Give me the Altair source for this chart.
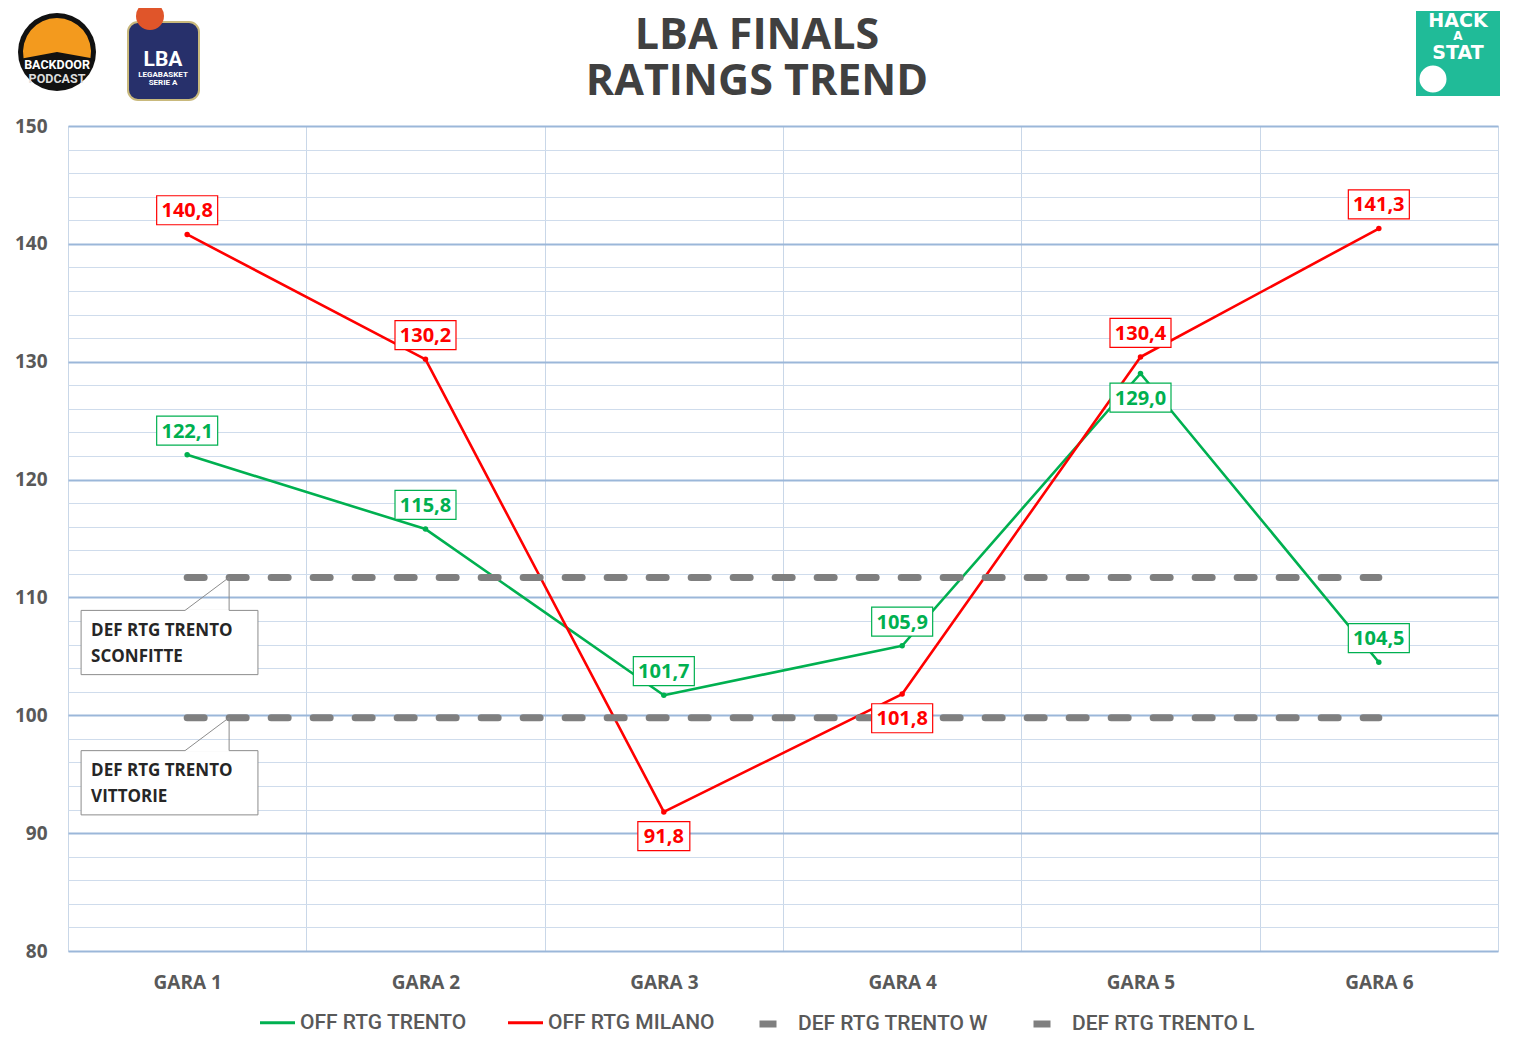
import altair as alt
import pandas as pd

# ---------------- data ----------------
games = ["GARA 1", "GARA 2", "GARA 3", "GARA 4", "GARA 5", "GARA 6"]
game_idx = [1, 2, 3, 4, 5, 6]
off_trento = [122.1, 115.8, 101.7, 105.9, 129.0, 104.5]
off_milano = [140.8, 130.2, 91.8, 101.8, 130.4, 141.3]
def_trento_w = 99.8   # DEF RTG TRENTO VITTORIE
def_trento_l = 111.7  # DEF RTG TRENTO SCONFITTE
off_series = ["OFF RTG TRENTO", "OFF RTG MILANO"]
def_series = ["DEF RTG TRENTO W", "DEF RTG TRENTO L"]
off_colors = ["#00b050", "#ff0000"]
def_color = "#7f7f7f"
# label placement: +1 above the point, -1 below
trento_label_side = [1, 1, 1, 1, -1, 1]
milano_label_side = [1, 1, -1, -1, 1, 1]
callout_values = [def_trento_l, def_trento_w]
callout_texts = ["DEF RTG TRENTO\nSCONFITTE", "DEF RTG TRENTO\nVITTORIE"]
title_lines = ["LBA FINALS", "RATINGS TREND"]

# ---------------- tables ----------------
off_rows = []
for s, vals in [(off_series[0], off_trento), (off_series[1], off_milano)]:
    for g, v in zip(game_idx, vals):
        off_rows.append({"g": g, "v": v, "s": s})
off_df = pd.DataFrame(off_rows)

def_rows = []
for s, v in [(def_series[0], def_trento_w), (def_series[1], def_trento_l)]:
    for g in game_idx:
        def_rows.append({"g": g, "v": v, "d": s})
def_df = pd.DataFrame(def_rows)

lab_rows = []
for s, vals, sides in [(off_series[0], off_trento, trento_label_side),
                       (off_series[1], off_milano, milano_label_side)]:
    for g, v, sd in zip(game_idx, vals, sides):
        lab_rows.append({"g": g, "v": v, "s": s, "side": sd,
                         "label": f"{v:.1f}".replace(".", ",")})
lab_df = pd.DataFrame(lab_rows)

call_df = pd.DataFrame({"v": callout_values, "text": callout_texts})

# ---------------- scales / axes ----------------
n = len(games)
W, H = 1430, 825
xscale = alt.Scale(domain=[0.5, n + 0.5], nice=False, zero=False)
yscale = alt.Scale(domain=[80, 150], nice=False, zero=False)
color_scale = alt.Scale(domain=off_series, range=off_colors)
dash_scale = alt.Scale(domain=def_series, range=[[17, 25], [17, 25]])

games_js = "[" + ",".join(f"'{g}'" for g in games) + "]"
xaxis = alt.Axis(
    values=[i + 0.5 for i in range(n + 1)],
    labelExpr=f"datum.value < {n} ? {games_js}[floor(datum.value)] : ''",
    labelOffset=W / n / 2,
    labelFlush=False, labelOverlap=False,
    grid=True, gridColor="#c9d7e8", gridWidth=1,
    domain=False, ticks=False, title=None,
    labelFont="Open Sans", labelFontSize=19, labelFontWeight="bold",
    labelColor="#595959", labelPadding=22,
)
yaxis = alt.Axis(
    values=list(range(80, 151, 2)),
    labelExpr="datum.value % 10 == 0 ? datum.label : ''",
    grid=True,
    gridColor={"condition": {"test": "datum.value % 10 === 0", "value": "#9bb7d9"}, "value": "#cfdcec"},
    gridWidth={"condition": {"test": "datum.value % 10 === 0", "value": 2}, "value": 1},
    domain=False, ticks=False, title=None,
    labelFont="Open Sans", labelFontSize=19, labelFontWeight="bold",
    labelColor="#595959", labelPadding=21,
)

leg_common = dict(title=None, orient="none", direction="horizontal", columns=2,
                  symbolType="stroke", symbolSize=1225,
                  labelFont="Roboto", labelFontSize=21, labelFontWeight=500,
                  labelColor="#595959", labelLimit=400)
legend_off = alt.Legend(legendX=190, legendY=877, symbolStrokeWidth=3.2,
                        labelOffset=3, columnPadding=34, **leg_common)
legend_def = alt.Legend(legendX=688, legendY=877, symbolStrokeWidth=7,
                        symbolStrokeColor=def_color, symbolDash=[17, 25],
                        labelOffset=0, columnPadding=30, **leg_common)

X = alt.X("g:Q", scale=xscale, axis=xaxis)
Y = alt.Y("v:Q", scale=yscale, axis=yaxis)

off_lines = alt.Chart(off_df).mark_line(strokeWidth=2.6, strokeJoin="round").encode(
    x=X, y=Y,
    color=alt.Color("s:N", scale=color_scale, legend=legend_off),
)
def_lines = alt.Chart(def_df).mark_line(strokeWidth=7, strokeCap="round", color=def_color).encode(
    x=X, y=Y,
    strokeDash=alt.StrokeDash("d:N", scale=dash_scale, legend=legend_def),
)
points = alt.Chart(off_df).mark_point(filled=True, size=30, opacity=1).encode(
    x=X, y=Y,
    color=alt.Color("s:N", scale=color_scale, legend=None),
)

lab_base = alt.Chart(lab_df).transform_calculate(ly="datum.v + datum.side * 2.05")
LY = alt.Y("ly:Q", scale=yscale, axis=yaxis)
box_wide = lab_base.transform_filter("length(datum.label) > 4").mark_rect(
    width=61, height=29, fill="white", strokeWidth=1.2).encode(
    x=X, y=LY, stroke=alt.Stroke("s:N", scale=color_scale, legend=None))
box_narrow = lab_base.transform_filter("length(datum.label) <= 4").mark_rect(
    width=52, height=29, fill="white", strokeWidth=1.2).encode(
    x=X, y=LY, stroke=alt.Stroke("s:N", scale=color_scale, legend=None))
lab_text = lab_base.mark_text(font="Open Sans", fontSize=20, fontWeight="bold",
                              baseline="middle", dy=1).encode(
    x=X, y=LY, text="label:N",
    color=alt.Color("s:N", scale=color_scale, legend=None))

# ---------------- callouts ----------------
call_base = alt.Chart(call_df).transform_calculate(
    bl="0.555", br="1.297", tip="1.176", base="0.991",
    top="datum.v - 2.8", bot="datum.v - 8.25", ty="datum.v - 4.52", tx="0.597")
call_box = call_base.mark_rect(fill="white", stroke="#8c8c8c", strokeWidth=1).encode(
    x=alt.X("bl:Q", scale=xscale, axis=xaxis), x2="br:Q",
    y=alt.Y("top:Q", scale=yscale, axis=yaxis), y2="bot:Q")
call_diag = call_base.mark_rule(color="#8c8c8c", strokeWidth=1).encode(
    x=alt.X("base:Q", scale=xscale, axis=xaxis), x2="tip:Q",
    y=alt.Y("top:Q", scale=yscale, axis=yaxis), y2="v:Q")
call_vert = call_base.mark_rule(color="#8c8c8c", strokeWidth=1).encode(
    x=alt.X("tip:Q", scale=xscale, axis=xaxis),
    y=alt.Y("top:Q", scale=yscale, axis=yaxis), y2="v:Q")
call_gap = call_base.mark_rule(color="white", strokeWidth=2).encode(
    x=alt.X("base:Q", scale=xscale, axis=xaxis), x2="tip:Q",
    y=alt.Y("top:Q", scale=yscale, axis=yaxis))
call_text = call_base.mark_text(align="left", baseline="middle", lineBreak="\n",
                                lineHeight=26, font="Open Sans", fontSize=17,
                                fontWeight="bold", color="#262626").encode(
    x=alt.X("tx:Q", scale=xscale, axis=xaxis),
    y=alt.Y("ty:Q", scale=yscale, axis=yaxis), text="text:N")

# ---------------- title and logos (decorative, above the plot) ----------------
one = alt.Chart(pd.DataFrame({"a": [0]}))
title1 = one.mark_text(text=title_lines[0], font="Open Sans", fontSize=43, fontWeight="bold",
                       color="#404040", baseline="middle").encode(x=alt.value(689), y=alt.value(-90))
title2 = one.mark_text(text=title_lines[1], font="Open Sans", fontSize=43, fontWeight="bold",
                       color="#404040", baseline="middle").encode(x=alt.value(689), y=alt.value(-44))
bd_circle = one.mark_point(shape="circle", filled=True, color="#111111", size=6084, opacity=1).encode(
    x=alt.value(-11), y=alt.value(-74))
bd_top = one.mark_arc(color="#f39a1e", radius=34, theta=4.53, theta2=8.03).encode(
    x=alt.value(-11), y=alt.value(-74))
bd_t1 = one.mark_text(text="BACKDOOR", font="Roboto", fontSize=12.5, fontWeight="bold",
                      color="white").encode(x=alt.value(-11), y=alt.value(-61))
bd_t2 = one.mark_text(text="PODCAST", font="Roboto", fontSize=12.5, fontWeight="bold",
                      color="#dddddd").encode(x=alt.value(-11), y=alt.value(-47))
lba_shield = one.mark_rect(fill="#27306b", stroke="#c9b97c", strokeWidth=2, cornerRadius=10).encode(
    x=alt.value(60), x2=alt.value(131), y=alt.value(-104), y2=alt.value(-26))
lba_ball = one.mark_point(shape="circle", filled=True, color="#e0552a", size=784, opacity=1).encode(
    x=alt.value(82), y=alt.value(-110))
lba_t1 = one.mark_text(text="LBA", font="Roboto", fontSize=21, fontWeight="bold",
                       color="white").encode(x=alt.value(95), y=alt.value(-66))
lba_t2 = one.mark_text(text="LEGABASKET", font="Roboto", fontSize=8, fontWeight="bold",
                       color="white").encode(x=alt.value(95), y=alt.value(-51))
lba_t3 = one.mark_text(text="SERIE A", font="Roboto", fontSize=8, fontWeight="bold",
                       color="white").encode(x=alt.value(95), y=alt.value(-43))
has_rect = one.mark_rect(fill="#20bb98").encode(
    x=alt.value(1348), x2=alt.value(1432), y=alt.value(-115), y2=alt.value(-30))
has_t1 = one.mark_text(text="HACK", font="DejaVu Sans", fontSize=19, fontWeight="bold",
                       color="white").encode(x=alt.value(1390), y=alt.value(-105))
has_t2 = one.mark_text(text="A", font="DejaVu Sans", fontSize=12, fontWeight="bold",
                       color="white").encode(x=alt.value(1390), y=alt.value(-90))
has_t3 = one.mark_text(text="STAT", font="DejaVu Sans", fontSize=19, fontWeight="bold",
                       color="white").encode(x=alt.value(1390), y=alt.value(-73))
has_ball = one.mark_point(shape="circle", filled=True, color="white", stroke="#20bb98",
                          size=841, opacity=1).encode(x=alt.value(1365), y=alt.value(-47))

chart = alt.layer(
    off_lines, def_lines, points, box_wide, box_narrow, lab_text,
    call_box, call_gap, call_diag, call_vert, call_text,
    title1, title2, bd_circle, bd_top, bd_t1, bd_t2, lba_shield, lba_ball, lba_t1, lba_t2, lba_t3,
    has_rect, has_t1, has_t2, has_t3, has_ball,
).properties(
    width=W, height=H,
    autosize=alt.AutoSizeParams(type="none"),
    padding={"left": 60, "top": 118, "right": 7, "bottom": 92},
).resolve_legend(color="independent", strokeDash="independent"
).configure_view(stroke=None).configure(background="white")

chart.save("out.html", embed_options={"renderer": "svg", "actions": False})
